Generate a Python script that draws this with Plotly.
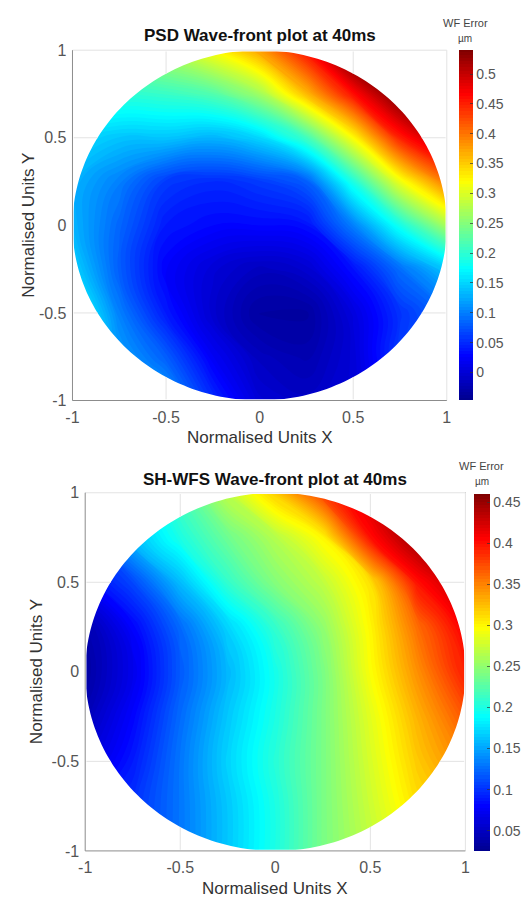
import numpy as np
import plotly.graph_objects as go

# ---------------- data ----------------
grid_x = [-1.0, -0.75, -0.5, -0.25, 0.0, 0.25, 0.5, 0.75, 1.0]
grid_y = [1.0, 0.75, 0.5, 0.25, 0.0, -0.25, -0.5, -0.75, -1.0]   # rows top -> bottom

# PSD wave-front error (µm), rows follow grid_y
psd_wf = [
    [0.27, 0.26, 0.28, 0.32, 0.375, 0.46, 0.57, 0.62, 0.64],
    [0.21, 0.20, 0.205, 0.22, 0.265, 0.36, 0.46, 0.55, 0.62],
    [0.155, 0.14, 0.14, 0.13, 0.15, 0.21, 0.32, 0.45, 0.52],
    [0.13, 0.10, 0.06, 0.05, 0.06, 0.08, 0.19, 0.31, 0.40],
    [0.13, 0.085, 0.04, 0.03, 0.03, 0.035, 0.10, 0.185, 0.27],
    [0.15, 0.08, 0.025, 0.0, -0.015, -0.005, 0.035, 0.09, 0.14],
    [0.19, 0.10, 0.04, -0.005, -0.035, -0.035, 0.005, 0.055, 0.09],
    [0.22, 0.12, 0.08, 0.02, -0.015, -0.025, 0.0, 0.06, 0.08],
    [0.25, 0.18, 0.12, 0.05, 0.0, -0.01, 0.0, 0.04, 0.08],
]

# SH-WFS wave-front error (µm), rows follow grid_y
shwfs_wf = [
    [0.13, 0.17, 0.22, 0.27, 0.32, 0.38, 0.43, 0.46, 0.47],
    [0.11, 0.16, 0.20, 0.235, 0.265, 0.30, 0.40, 0.45, 0.47],
    [0.08, 0.11, 0.16, 0.21, 0.245, 0.27, 0.31, 0.40, 0.44],
    [0.04, 0.08, 0.125, 0.17, 0.21, 0.25, 0.30, 0.36, 0.41],
    [0.035, 0.07, 0.118, 0.158, 0.197, 0.24, 0.295, 0.345, 0.395],
    [0.045, 0.08, 0.125, 0.165, 0.20, 0.24, 0.285, 0.33, 0.37],
    [0.06, 0.09, 0.13, 0.17, 0.205, 0.24, 0.28, 0.32, 0.35],
    [0.08, 0.10, 0.13, 0.165, 0.20, 0.24, 0.275, 0.31, 0.33],
    [0.08, 0.10, 0.13, 0.165, 0.20, 0.24, 0.27, 0.30, 0.32],
]

psd_range = [-0.044, 0.537]
shwfs_range = [0.0275, 0.458]

axis_ticks = [-1, -0.5, 0, 0.5, 1]
axis_ticktext = ["-1", "-0.5", "0", "0.5", "1"]
psd_cb_ticks = [0, 0.05, 0.1, 0.15, 0.2, 0.25, 0.3, 0.35, 0.4, 0.45, 0.5]
shwfs_cb_ticks = [0.05, 0.1, 0.15, 0.2, 0.25, 0.3, 0.35, 0.4, 0.45]

titles = ["PSD Wave-front plot at 40ms", "SH-WFS Wave-front plot at 40ms"]
xlabel = "Normalised Units X"
ylabel = "Normalised Units Y"
cb_title = "WF Error"
cb_unit = "µm"

# ---------------- styling ----------------
W, H = 530, 908
FONT = "Liberation Sans, Arial, sans-serif"
jet = [[0.0, "#00008f"], [0.125, "#0000ff"], [0.375, "#00ffff"],
       [0.625, "#ffff00"], [0.875, "#ff0000"], [1.0, "#800000"]]
AXIS_GRAY = "#8c8c8c"
GRID_GRAY = "#e3e3e3"

# pixel boxes of the two plot areas (left, right, top, bottom)
boxes = [(67, 450, 43, 400), (80, 469, 494, 859)]
cbars = [(462, 14, 43, 400), (478, 16, 495, 859)]
N_LEVELS = 110


def px(xp):
    return xp / W


def py(yp):
    return 1 - yp / H


fig = go.Figure()

ys_asc = grid_y[::-1]
datasets = [(psd_wf, psd_range), (shwfs_wf, shwfs_range)]
for i, (z, rng) in enumerate(datasets):
    s = "" if i == 0 else str(i + 1)
    fig.add_trace(go.Contour(
        x=grid_x, y=ys_asc, z=z[::-1],
        coloraxis="coloraxis" + s, xaxis="x" + s, yaxis="y" + s,
        autocontour=False,
        contours=dict(start=rng[0], end=rng[1], size=(rng[1] - rng[0]) / N_LEVELS,
                      coloring="fill", showlines=False),
        line=dict(width=0, smoothing=1.3),
        hoverinfo="skip"))

ax_common = dict(range=[-1, 1], tickvals=axis_ticks, ticktext=axis_ticktext,
                 showgrid=False, zeroline=False, showline=False, ticks="",
                 tickfont=dict(family=FONT, size=16, color="#555555"),
                 ticklabelstandoff=5, fixedrange=True)

layout = dict(width=W, height=H, margin=dict(l=0, r=0, t=0, b=0),
              paper_bgcolor="white", plot_bgcolor="white", showlegend=False)

for i, (l, r, t, b) in enumerate(boxes):
    s = "" if i == 0 else str(i + 1)
    layout["xaxis" + s] = dict(ax_common, domain=[px(l), px(r)], anchor="y" + s)
    layout["yaxis" + s] = dict(ax_common, domain=[py(b), py(t)], anchor="x" + s)

cb_ticks = [psd_cb_ticks, shwfs_cb_ticks]
for i, (x0, th, t, b) in enumerate(cbars):
    key = "coloraxis" if i == 0 else "coloraxis2"
    rng = datasets[i][1]
    layout[key] = dict(
        colorscale=jet, cmin=rng[0], cmax=rng[1],
        colorbar=dict(x=px(x0), xanchor="left", thickness=th, thicknessmode="pixels",
                      len=(b - t) / H, lenmode="fraction", y=py((t + b) / 2),
                      yanchor="middle", xpad=0, ypad=0, outlinewidth=0,
                      tickvals=cb_ticks[i], ticks="inside", ticklen=3,
                      tickcolor="rgba(50,50,50,0.7)", ticklabelposition="outside",
                      tickfont=dict(family=FONT, size=14, color="#555555")))

fig.update_layout(**layout)

# white mask outside the unit circle + faint grid segments outside it
theta = np.linspace(0, 2 * np.pi, 241)
circle = " ".join(f"L{np.cos(a):.4f},{np.sin(a):.4f}" for a in theta[1:])
mask_path = ("M-1.5,-1.5 L-1.5,1.5 L1.5,1.5 L1.5,-1.5 Z "
             f"M1,0 {circle} Z")
shapes = []
for i, (l, r, t, b) in enumerate(boxes):
    s = "" if i == 0 else str(i + 1)
    shapes.append(dict(type="path", path=mask_path, xref="x" + s, yref="y" + s,
                       fillcolor="white", line=dict(width=0), layer="above"))
    for g in axis_ticks[1:-1]:
        h = float(np.sqrt(max(0.0, 1 - g * g)))
        for (a0, a1) in [(h, 1.0), (-1.0, -h)]:
            shapes.append(dict(type="line", xref="x" + s, yref="y" + s,
                               x0=g, x1=g, y0=a0, y1=a1,
                               line=dict(color=GRID_GRAY, width=1), layer="above"))
            shapes.append(dict(type="line", xref="x" + s, yref="y" + s,
                               y0=g, y1=g, x0=a0, x1=a1,
                               line=dict(color=GRID_GRAY, width=1), layer="above"))
    # clean frame: white cover strip, then axis lines (left/bottom) and grid border (top/right)
    edges = [((l, t), (r, t), GRID_GRAY), ((r, t), (r, b), GRID_GRAY),
             ((l, t), (l, b), AXIS_GRAY), ((l, b), (r, b), AXIS_GRAY)]
    for (p0, p1, col) in edges:
        shapes.append(dict(type="line", xref="paper", yref="paper",
                           x0=px(p0[0]), y0=py(p0[1]), x1=px(p1[0]), y1=py(p1[1]),
                           line=dict(color="white", width=2.5), layer="above"))
    for (p0, p1, col) in edges:
        shapes.append(dict(type="line", xref="paper", yref="paper",
                           x0=px(p0[0]), y0=py(p0[1]), x1=px(p1[0]), y1=py(p1[1]),
                           line=dict(color=col, width=1), layer="above"))
fig.update_layout(shapes=shapes)

ann = []
for i, (l, r, t, b) in enumerate(boxes):
    cx = (l + r) / 2
    cy = (t + b) / 2
    title_y = [28, 480][i]
    xl_y = [438, 897][i]
    yl_x = [22, 31][i]
    ann.append(dict(text=f"<b>{titles[i]}</b>", x=px(cx), y=py(title_y),
                    xref="paper", yref="paper", showarrow=False,
                    xanchor="center", yanchor="middle",
                    font=dict(family=FONT, size=17, color="#111111")))
    ann.append(dict(text=xlabel, x=px(cx), y=py(xl_y), xref="paper", yref="paper",
                    showarrow=False, xanchor="center", yanchor="middle",
                    font=dict(family=FONT, size=17, color="#333333")))
    ann.append(dict(text=ylabel, x=px(yl_x), y=py(cy), xref="paper", yref="paper",
                    showarrow=False, xanchor="center", yanchor="middle", textangle=-90,
                    font=dict(family=FONT, size=17, color="#333333")))
    x0, th, t2, b2 = cbars[i]
    ccx = x0 + th / 2
    ann.append(dict(text=cb_title, x=px(ccx), y=py(t2 - 28), xref="paper", yref="paper",
                    showarrow=False, xanchor="center", yanchor="middle",
                    font=dict(family=FONT, size=11, color="#444444")))
    ann.append(dict(text=cb_unit, x=px(ccx), y=py(t2 - 12), xref="paper", yref="paper",
                    showarrow=False, xanchor="center", yanchor="middle",
                    font=dict(family=FONT, size=10, color="#444444")))
fig.update_layout(annotations=ann)

fig.write_html("out.html",
               config={"displayModeBar": False},
               post_script="document.body.style.margin='0';"
                           "document.body.style.overflow='hidden';")
